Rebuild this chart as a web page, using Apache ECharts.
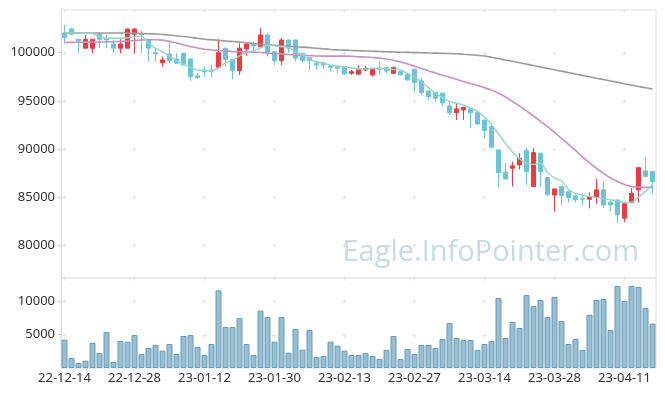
<!DOCTYPE html>
<html><head><meta charset="utf-8">
<script src="https://cdn.jsdelivr.net/npm/echarts@6/dist/echarts.min.js"></script>
<style>html,body{margin:0;padding:0;background:#fff}#c{width:665px;height:396px}</style>
</head><body><div id="c"></div>
<script>
const dates = ['22-12-14','22-12-15','22-12-16','22-12-19','22-12-20','22-12-21','22-12-22','22-12-23','22-12-26','22-12-27',
'22-12-28','22-12-29','23-01-02','23-01-03','23-01-04','23-01-05','23-01-06','23-01-09','23-01-10','23-01-11',
'23-01-12','23-01-13','23-01-16','23-01-17','23-01-18','23-01-19','23-01-20','23-01-25','23-01-26','23-01-27',
'23-01-30','23-01-31','23-02-01','23-02-02','23-02-03','23-02-06','23-02-07','23-02-08','23-02-09','23-02-10',
'23-02-13','23-02-14','23-02-15','23-02-16','23-02-17','23-02-20','23-02-21','23-02-22','23-02-23','23-02-24',
'23-02-27','23-02-28','23-03-02','23-03-03','23-03-06','23-03-07','23-03-08','23-03-09','23-03-10','23-03-13',
'23-03-14','23-03-15','23-03-16','23-03-17','23-03-20','23-03-21','23-03-22','23-03-23','23-03-24','23-03-27',
'23-03-28','23-03-29','23-03-30','23-03-31','23-04-03','23-04-04','23-04-05','23-04-06','23-04-07','23-04-10',
'23-04-11','23-04-12','23-04-13','23-04-14','23-04-17'];

const opens  = [102050,102460,101390,100460,100460,101940,101420,100900,100460,100460,
101910,101940,101390,100000,98960,99870,99350,99940,99350,97580,
98200,98200,98480,100460,99310,98130,100380,100980,100620,101840,
100100,99170,101320,101320,99940,99480,98900,98900,98620,98550,
98480,97860,97760,98200,97690,98380,98440,97860,98030,97760,
98280,97060,96020,95890,95790,94470,93770,94050,94230,93770,
93010,92320,89900,87590,88000,88340,89830,86090,89560,87030,
85230,86090,85570,85130,84880,84780,84990,85750,84430,84710,
82810,84430,85750,87720,87650];
const closes = [101550,101910,101210,101390,101390,101390,101320,100460,100900,102460,
102460,101840,100460,99870,99240,99170,98900,98720,97510,97400,
98030,98030,100000,99310,98130,100460,100900,100700,101840,99940,
99170,101320,100460,99420,99170,99170,98720,98720,98480,98380,
97790,98030,98280,98380,98380,98280,98100,98440,97690,97170,
96890,95850,95430,95270,94810,93770,94160,94330,93770,92600,
91900,90180,87540,86890,88240,89040,87650,89620,87650,85230,
85850,85160,84950,84710,84780,85050,85750,84190,84190,83150,
84300,85410,88060,87130,86610];
const lows   = [100950,101800,99940,100460,99940,100460,100460,99940,99940,100460,
99940,99940,99070,99070,98550,98930,98900,98720,97090,97300,
97510,97510,98480,98550,97240,97690,99660,99940,100620,99590,
98720,98720,100000,99070,99000,98200,98200,98300,98050,97850,
97690,97690,97760,98100,97510,97760,97860,97760,97690,97100,
95850,95610,95090,94900,94400,93530,93010,93010,92150,92450,
91120,90180,86030,86890,86090,87900,86270,86090,86090,85230,
83500,84190,84470,84440,84190,83840,84290,83850,83530,82290,
82400,84370,84430,87130,85330];
const highs  = [102880,102560,101390,101840,101390,101940,101840,101320,101390,102460,
102460,102350,101390,100460,99590,101320,99940,99940,99350,97900,
98550,98720,101390,100460,99310,100980,100900,101150,102530,102000,
100100,101500,101320,101320,99940,99480,99060,99060,98620,98620,
98480,98200,98720,98650,98380,99070,98440,98550,98030,97760,
98280,97400,96020,95890,95790,94810,94750,94330,94230,94050,
93010,92670,89900,88520,88690,89560,90080,90080,89560,87030,
85850,86090,85570,85250,85400,85510,86890,86610,84710,84710,
84300,85920,88130,89140,87650];
const volumes = [4250,1500,750,1100,3750,2250,5400,900,4050,3950,
4950,2100,3000,3450,2600,3600,2100,4800,4950,3150,
1950,3600,11650,6150,6150,7500,3600,1950,8600,7650,
3950,7650,2300,5850,2750,5700,1650,1800,3950,3350,
2600,1950,1950,2250,1800,1350,2700,4800,1350,2850,
2100,3450,3450,3000,4350,6750,4500,4200,4200,2700,
3600,4050,10500,4500,6900,6000,10950,9300,10200,7650,
10650,7050,3600,4350,2700,8000,10200,10350,5700,12300,
10050,12300,12150,9000,6650];
const ma5 = [102080,102040,102020,102010,101990,101650,101490,101490,101490,101550,
101660,101660,101010,100440,100070,99660,99170,98830,98440,98200,
98160,98100,98410,98930,99190,99660,100020,100180,100490,100800,
100700,100610,100540,100120,99760,99290,99060,98900,98720,98590,
98550,98410,98310,98310,98340,98380,98310,98250,98200,97860,
97480,96960,96390,95770,95350,94930,94750,94570,94210,93900,
93330,92550,91560,90580,89690,88970,88550,88400,88520,87570,
86990,86680,85800,85390,85200,85070,84950,84830,84710,84610,
84450,84480,84970,85610,86320];
const ma20 = [101060,101070,101080,101090,101100,101110,101120,101140,101170,101210,
101270,101320,101340,101340,101300,101160,101010,100820,100640,100490,
100350,100280,100230,100180,100120,100090,100070,100040,100010,99970,
99920,99870,99810,99760,99730,99690,99660,99640,99640,99640,
99640,99620,99580,99550,99500,99450,99350,99210,99030,98830,
98600,98360,98120,97890,97660,97450,97230,97010,96800,96600,
96370,96110,95790,95400,94930,94470,93950,93430,92860,92320,
91720,91090,90470,89850,89170,88550,87980,87460,86990,86630,
86320,86110,86030,86010,86010];
const ma60 = [102040,102040,102040,102040,102040,102040,102040,102040,102040,102040,
102010,101990,101960,101940,101890,101840,101750,101680,101600,101490,
101390,101340,101290,101210,101160,101110,101030,100950,100880,100820,
100770,100720,100660,100610,100570,100520,100460,100390,100330,100290,
100260,100230,100200,100180,100150,100120,100090,100070,100050,100030,
100010,99990,99970,99950,99930,99910,99880,99830,99780,99720,
99650,99520,99390,99240,99100,98950,98810,98660,98520,98370,
98220,98080,97930,97790,97640,97500,97350,97210,97060,96920,
96770,96630,96490,96360,96230];
const priceTicks = [80000,85000,90000,95000,100000];
const volumeTicks = [5000,10000];
const gridCols = [0,10,20,30,40,50,60,70,80];
const priceRange = [76600,104430];
const volumeRange = [0,13500];

const FONT = '"Noto Sans", "Open Sans", sans-serif';
const UP = '#ec3a40', DOWN = '#6cc3d8';

const candleData = opens.map((o,i)=>[o, closes[i], lows[i], highs[i]]);
const crossMain = [];
gridCols.forEach(c => priceTicks.concat(priceRange).forEach(v => crossMain.push([c, v])));
const crossVol = [];
gridCols.forEach(c => volumeTicks.concat([volumeRange[1]]).forEach(v => crossVol.push([c, v])));

function crossRender(params, api){
  const p = api.coord([api.value(0), api.value(1)]);
  const x = Math.round(p[0]) - 0.5, y = Math.round(p[1]) + 0.5;
  const st = {stroke:'#e3e3e3', lineWidth:1};
  return {type:'group', children:[
    {type:'line', shape:{x1:x-2,y1:y,x2:x+2,y2:y}, style:st},
    {type:'line', shape:{x1:x,y1:y-2,x2:x,y2:y+2}, style:st}
  ]};
}
const plain = v => String(v);

const chart = echarts.init(document.getElementById('c'), null, {renderer:'canvas'});
chart.setOption({
  animation:false,
  backgroundColor:'#fff',
  textStyle:{fontFamily:FONT},
  grid:[
    {left:61, right:9, top:10, height:268, show:true, borderColor:'#e2e2e2', borderWidth:1},
    {left:61, right:9, top:278, height:90, show:true, borderColor:'#e2e2e2', borderWidth:1}
  ],
  graphic:[{type:'text', right:26, top:238, z:-10, silent:true,
    style:{text:'Eagle.InfoPointer.com', fill:'#c6dbe6', font:'29px "Open Sans", "Noto Sans", sans-serif'}}],
  xAxis:[
    {type:'category', gridIndex:0, data:dates, boundaryGap:true, axisLine:{show:false}, axisTick:{show:false}, axisLabel:{show:false}, splitLine:{show:false}},
    {type:'category', gridIndex:1, data:dates, boundaryGap:true, axisLine:{show:false}, axisTick:{show:false},
      axisLabel:{interval:9, color:'#333', fontSize:13, fontFamily:FONT, margin:4}, splitLine:{show:false}}
  ],
  yAxis:[
    {type:'value', gridIndex:0, min:priceRange[0], max:priceRange[1], scale:true,
      axisLine:{show:true, lineStyle:{color:'#dcdcdc'}},
      axisTick:{show:true, length:3, lineStyle:{color:'#cccccc'}, customValues:priceTicks},
      axisLabel:{color:'#333', fontSize:13, fontFamily:FONT, margin:6, customValues:priceTicks, formatter:plain},
      splitLine:{show:false}},
    {type:'value', gridIndex:1, min:volumeRange[0], max:volumeRange[1],
      axisLine:{show:true, lineStyle:{color:'#dcdcdc'}},
      axisTick:{show:true, length:3, lineStyle:{color:'#cccccc'}, customValues:volumeTicks},
      axisLabel:{color:'#333', fontSize:13, fontFamily:FONT, margin:6, customValues:volumeTicks, formatter:plain},
      splitLine:{show:false}}
  ],
  series:[
    {type:'custom', xAxisIndex:0, yAxisIndex:0, data:crossMain, renderItem:crossRender, silent:true, z:1},
    {type:'custom', xAxisIndex:1, yAxisIndex:1, data:crossVol, renderItem:crossRender, silent:true, z:1},
    {type:'candlestick', xAxisIndex:0, yAxisIndex:0, data:candleData, barWidth:5, z:3,
      itemStyle:{color:UP, color0:DOWN, borderColor:UP, borderColor0:DOWN, borderWidth:1}},
    {type:'line', xAxisIndex:0, yAxisIndex:0, data:ma60, symbol:'none', smooth:0.3, z:4,
      lineStyle:{color:'#9a9a9a', width:1.6}},
    {type:'line', xAxisIndex:0, yAxisIndex:0, data:ma20, symbol:'none', smooth:0.3, z:4,
      lineStyle:{color:'#c98ec6', width:1.6}},
    {type:'line', xAxisIndex:0, yAxisIndex:0, data:ma5, symbol:'none', smooth:0.3, z:4,
      lineStyle:{color:'#96d4c7', width:1.4}},
    {type:'bar', xAxisIndex:1, yAxisIndex:1, data:volumes, barWidth:6, z:3,
      itemStyle:{color:'rgba(140,184,206,0.9)', borderColor:'#6a9cb5', borderWidth:1}}
  ]
});
</script></body></html>
